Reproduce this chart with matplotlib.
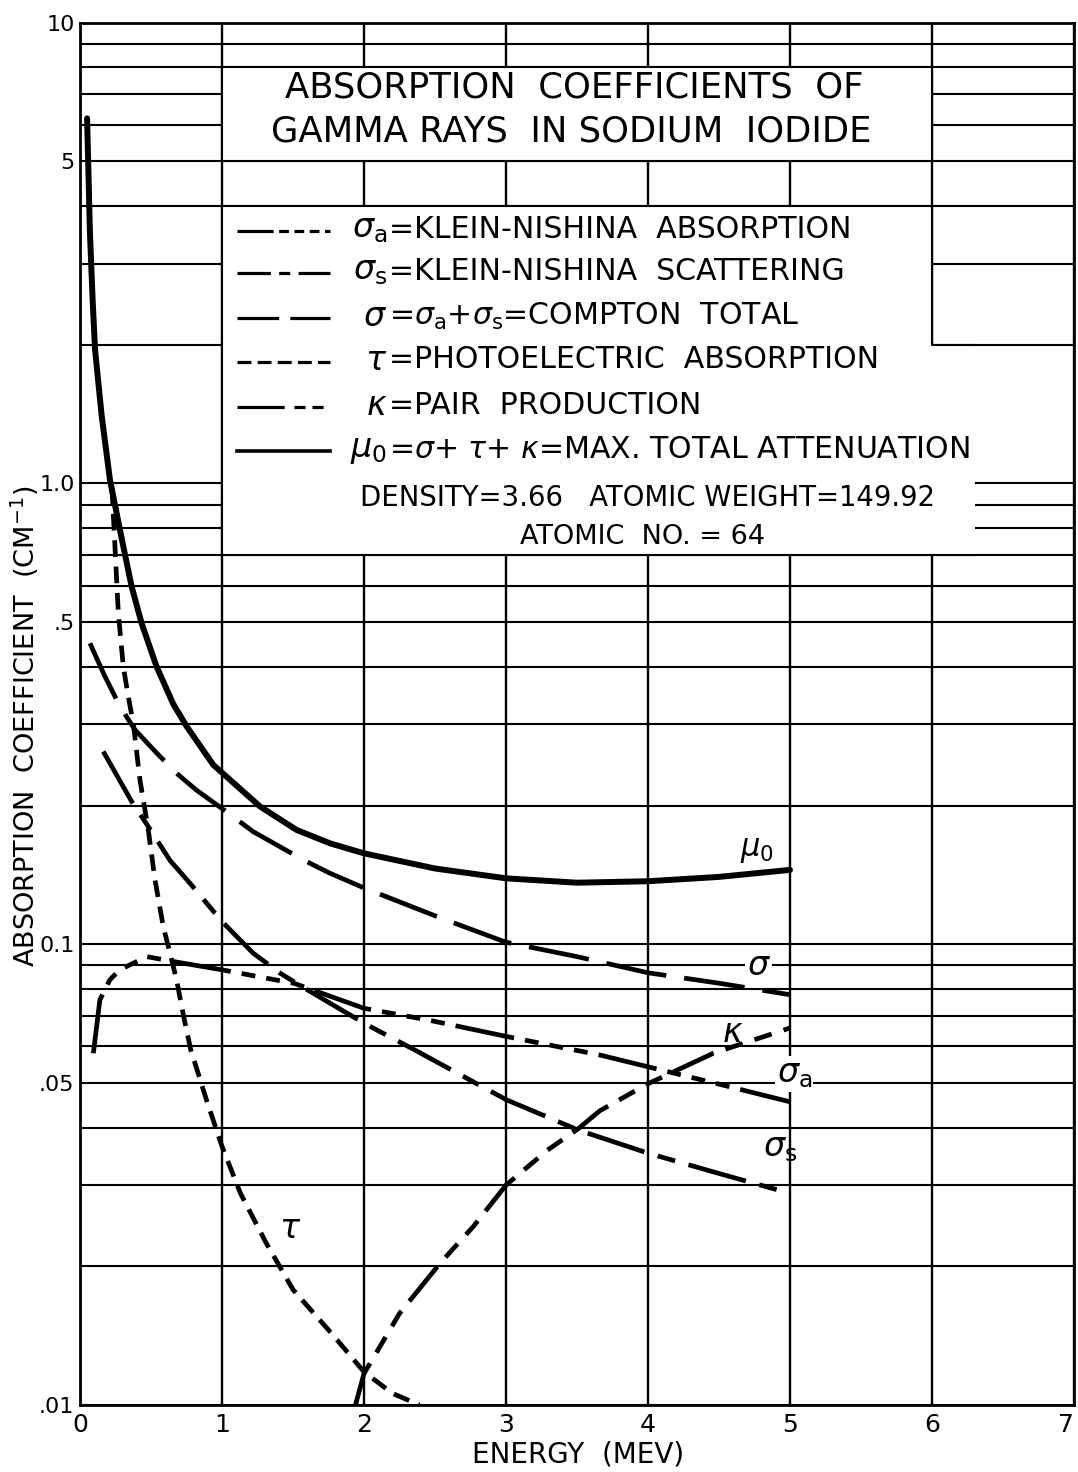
import matplotlib.pyplot as plt
import numpy as np
from matplotlib.patches import Rectangle, Polygon
from matplotlib.lines import Line2D
from matplotlib.ticker import LogLocator, NullFormatter

plt.rcParams['font.family'] = ['DejaVu Sans']
plt.rcParams['mathtext.fontset'] = 'dejavusans'
plt.rcParams['lines.scale_dashes'] = False

# values: energy (MeV) and coefficient (cm^-1)
e_mu0 = [0.05, 0.07, 0.089, 0.106, 0.153, 0.211, 0.258, 0.305, 0.364, 0.434, 0.54, 0.657, 0.751, 0.939,
         1.268, 1.526, 1.76, 2.0, 2.5, 3.0, 3.5, 4.0, 4.5, 5.0]
mu0 = [6.2, 3.5, 2.5, 1.95, 1.40, 1.018, 0.862, 0.73, 0.597, 0.497, 0.40, 0.332, 0.297, 0.245,
       0.199, 0.177, 0.1656, 0.1575, 0.146, 0.139, 0.136, 0.137, 0.140, 0.145]

e_sigma = [0.07, 0.176, 0.282, 0.387, 0.54, 0.68, 0.82, 1.0, 1.22, 1.573, 1.76, 2.0, 2.54, 3.0, 3.5, 4.0, 4.5, 5.0]
sigma = [0.45, 0.381, 0.328, 0.292, 0.26, 0.235, 0.216, 0.197, 0.1755, 0.1524, 0.1426, 0.1325, 0.114, 0.101,
         0.094, 0.0867, 0.0823, 0.0777]

e_sigma_s = [0.164, 0.364, 0.481, 0.634, 0.775, 1.0, 1.22, 1.41, 1.56, 2.0, 2.36, 3.0, 3.51, 4.0, 4.5, 5.0]
sigma_s = [0.262, 0.204, 0.18, 0.152, 0.1356, 0.112, 0.0956, 0.0865, 0.081, 0.0674, 0.0589, 0.046, 0.0395,
           0.0352, 0.0318, 0.0288]

e_sigma_a = [0.094, 0.117, 0.14, 0.21, 0.28, 0.47, 0.66, 1.0, 1.51, 2.0, 2.45, 3.0, 3.66, 4.0, 4.5, 5.0]
sigma_a = [0.058, 0.0662, 0.0757, 0.0837, 0.088, 0.094, 0.0917, 0.088, 0.0822, 0.0726, 0.0685, 0.0631, 0.0575,
           0.0542, 0.0497, 0.0455]

e_tau = [0.225, 0.246, 0.27, 0.305, 0.34, 0.376, 0.4225, 0.481, 0.528, 0.587, 0.634, 0.68, 0.73, 0.78, 0.89,
         1.0, 1.13, 1.31, 1.5, 1.78, 2.0, 2.2, 2.39]
tau = [0.98, 0.73, 0.523, 0.40, 0.345, 0.30, 0.227, 0.177, 0.138, 0.109, 0.0956, 0.0837, 0.0697, 0.059, 0.046,
       0.0364, 0.0288, 0.0225, 0.0178, 0.0142, 0.0118, 0.0106, 0.0100]

e_kappa = [1.94, 2.0, 2.25, 2.535, 2.77, 3.0, 3.29, 3.51, 3.66, 4.0, 4.46, 5.0]
kappa = [0.0100, 0.0117, 0.0158, 0.0203, 0.0244, 0.030, 0.0357, 0.0398, 0.0435, 0.0498, 0.058, 0.0658]

ytick_vals = [0.01, 0.05, 0.1, 0.5, 1.0, 5, 10]
ytick_text = ['.01', '.05', '0.1', '.5', '1.0', '5', '10']
xtick_vals = [0, 1, 2, 3, 4, 5, 6, 7]

title_lines = ['ABSORPTION  COEFFICIENTS  OF', 'GAMMA RAYS  IN SODIUM  IODIDE']
legend_sym = [r'$\sigma_{\rm a}$', r'$\sigma_{\rm s}$', r'$\sigma$', r'$\tau$', r'$\kappa$', r'$\mu_{\rm 0}$']
legend_txt = ['=KLEIN-NISHINA  ABSORPTION',
              '=KLEIN-NISHINA  SCATTERING',
              r'=$\sigma_{\rm a}$+$\sigma_{\rm s}$=COMPTON  TOTAL',
              '=PHOTOELECTRIC  ABSORPTION',
              '=PAIR  PRODUCTION',
              r'=$\sigma$+ $\tau$+ $\kappa$=MAX. TOTAL ATTENUATION']
info_1 = 'DENSITY=3.66   ATOMIC WEIGHT=149.92'
info_2 = 'ATOMIC  NO. = 64'

# dash patterns in points
st_mu0 = dict(color='k', lw=4.3, ls='-', solid_capstyle='round')
st_sigma = dict(color='k', lw=3.4, ls=(0, (44, 13)))
st_sigma_s = dict(color='k', lw=3.4, ls=(0, (43, 10, 13, 10)))
st_sigma_a = dict(color='k', lw=3.4, ls=(0, (43, 8, 10, 8, 10, 8, 10, 8)))
st_tau = dict(color='k', lw=3.4, ls=(0, (12, 7)))
st_kappa = dict(color='k', lw=3.4, ls=(0, (32, 9, 13, 9, 13, 9)))

fig = plt.figure(figsize=(10.78, 14.72), dpi=100)
ax = fig.add_axes([80 / 1078, 1 - 1405 / 1472, 994 / 1078, 1382.3 / 1472])
ax.set_yscale('log')
ax.set_xlim(0, 7)
ax.set_ylim(0.01, 10)

ax.set_yticks(ytick_vals, ytick_text)
ax.set_xticks(xtick_vals)
ax.yaxis.set_minor_locator(LogLocator(base=10, subs=np.arange(2, 10)))
ax.yaxis.set_minor_formatter(NullFormatter())
ax.tick_params(which='both', length=0)
ax.tick_params(axis='y', labelsize=16, pad=4)
ax.tick_params(axis='x', labelsize=18, pad=6)
ax.get_xticklabels()[-1].set_ha('right')
ax.set_axisbelow(True)
ax.grid(True, which='both', axis='y', color='k', lw=1.5)
ax.grid(True, which='major', axis='x', color='k', lw=1.7)
for s in ax.spines.values():
    s.set_linewidth(2)

# white boxes for title and key
ax.add_patch(Rectangle((1, 5), 5, 3, facecolor='white', edgecolor='k', lw=1.5, zorder=1))
ax.add_patch(Polygon([(1, 0.7), (1, 4), (6, 4), (6, 2), (6.3, 2), (6.3, 0.7)],
                     closed=True, facecolor='white', edgecolor='none', zorder=1))
ax.plot([6.3, 1, 1, 6, 6, 6.3], [0.7, 0.7, 4, 4, 2, 2], color='k', lw=1.5, zorder=1.1)

# curves
ax.plot(e_mu0, mu0, zorder=3, **st_mu0)
ax.plot(e_sigma, sigma, zorder=3, **st_sigma)
ax.plot(e_sigma_s, sigma_s, zorder=3, **st_sigma_s)
ax.plot(e_sigma_a, sigma_a, zorder=3, **st_sigma_a)
ax.plot(e_tau, tau, zorder=3, **st_tau)
ax.plot(e_kappa, kappa, zorder=3, **st_kappa)

# curve labels
wb = dict(facecolor='white', edgecolor='none', pad=1)
ax.text(4.77, 0.160, r'$\mu_{\rm 0}$', fontsize=22, ha='center', va='center', zorder=4)
ax.text(4.78, 0.0898, r'$\sigma$', fontsize=24, ha='center', va='center', zorder=4, bbox=wb)
ax.text(4.6, 0.0642, r'$\kappa$', fontsize=24, ha='center', va='center', zorder=4)
ax.text(5.03, 0.0523, r'$\sigma_{\rm a}$', fontsize=24, ha='center', va='center', zorder=4, bbox=wb)
ax.text(4.93, 0.0363, r'$\sigma_{\rm s}$', fontsize=24, ha='center', va='center', zorder=4)
ax.text(1.48, 0.0242, r'$\tau$', fontsize=24, ha='center', va='center', zorder=4)


def at(px, py):
    return ((px - 80) / 994, (1405 - py) / 1382.3)


# title
ax.text(*at(574, 88), title_lines[0], transform=ax.transAxes, fontsize=25.5,
        ha='center', va='center', zorder=4)
ax.text(*at(571, 131), title_lines[1], transform=ax.transAxes, fontsize=25.5,
        ha='center', va='center', zorder=4)

# key
key_styles = [dict(ls=(0, (26, 4, 7, 4, 7, 4, 7, 4))),
              dict(ls=(0, (24, 6, 8, 6, 24, 20))),
              dict(ls=(0, (30, 8, 40, 20))),
              dict(ls=(0, (10, 4.5))),
              dict(ls=(0, (34, 7, 8, 5, 8, 20))),
              dict(ls='-')]
key_rows = [229, 271, 316, 360, 405, 449]
for i, py in enumerate(key_rows):
    x0, y0 = at(237, py + 2)
    x1, _ = at(330, py + 2)
    lw = 2.6 if i == 5 else 2.3
    ax.add_line(Line2D([x0, x1], [y0, y0], transform=ax.transAxes, color='k', lw=lw,
                       zorder=4, **key_styles[i]))
    ax.text(*at(387, py), legend_sym[i], transform=ax.transAxes, fontsize=24,
            ha='right', va='center', zorder=4)
    ax.text(*at(389, py), legend_txt[i], transform=ax.transAxes, fontsize=21.6,
            ha='left', va='center', zorder=4)

ax.text(*at(647, 498), info_1, transform=ax.transAxes, fontsize=19.8,
        ha='center', va='center', zorder=4)
ax.text(*at(643, 537), info_2, transform=ax.transAxes, fontsize=19.5,
        ha='center', va='center', zorder=4)

fig.text(578 / 1078, 1 - 1455 / 1472, 'ENERGY  (MEV)', fontsize=20, ha='center', va='center')
fig.text(25 / 1078, 1 - 726 / 1472, r'ABSORPTION  COEFFICIENT  (CM$^{-1}$)', fontsize=19.5,
         rotation=90, ha='center', va='center')

fig.savefig('out.png', dpi=100)
